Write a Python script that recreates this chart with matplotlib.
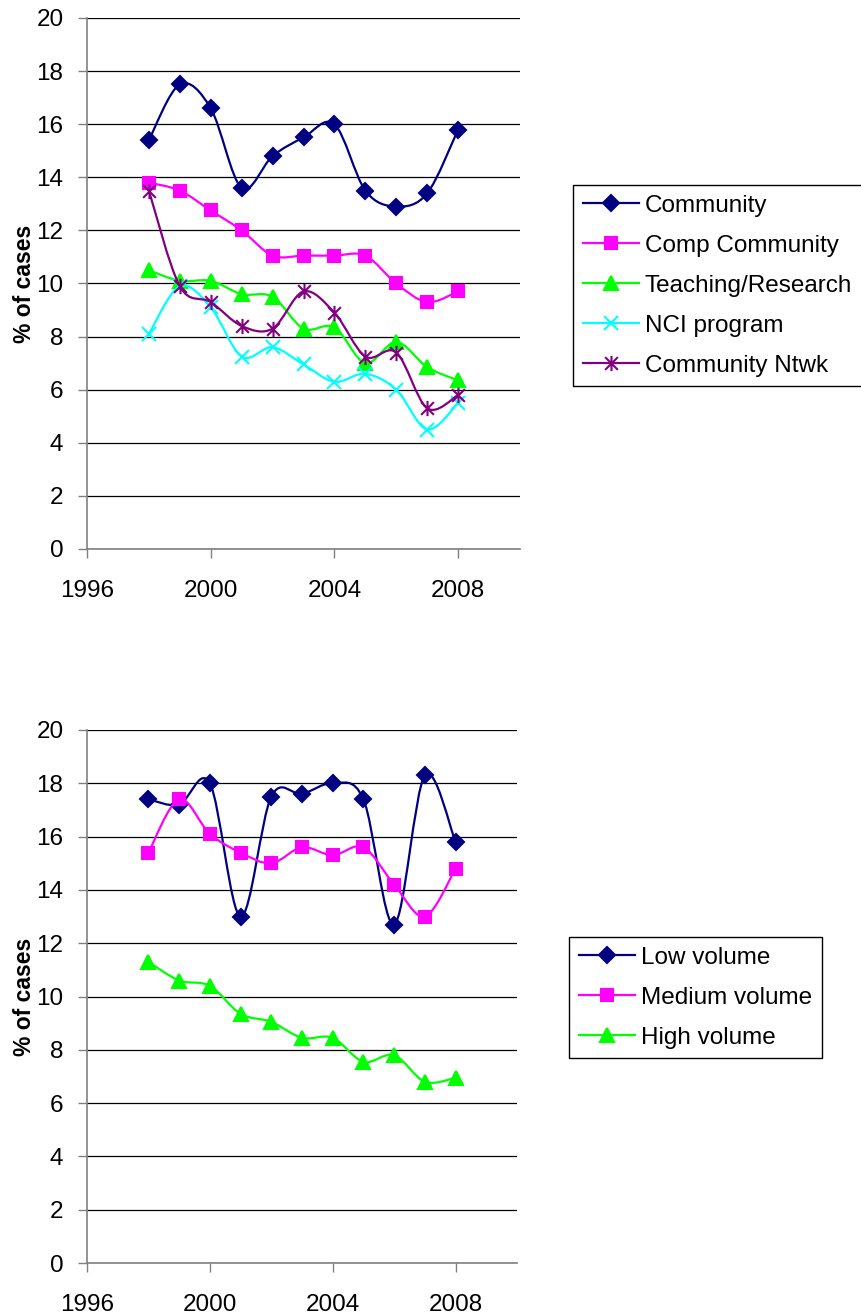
import numpy as np
import matplotlib
matplotlib.use("Agg")
import matplotlib.pyplot as plt
from matplotlib.path import Path
from matplotlib.patches import PathPatch
from matplotlib.lines import Line2D

plt.rcParams['font.family'] = ['Liberation Sans', 'DejaVu Sans']

years = [1998, 1999, 2000, 2001, 2002, 2003, 2004, 2005, 2006, 2007, 2008]

# Hospital type
community = [15.4, 17.5, 16.6, 13.6, 14.8, 15.5, 16.0, 13.5, 12.9, 13.4, 15.8]
comp_community = [13.8, 13.5, 12.75, 12.0, 11.05, 11.05, 11.05, 11.05, 10.0, 9.3, 9.7]
teaching = [10.5, 10.1, 10.1, 9.6, 9.5, 8.3, 8.35, 7.0, 7.8, 6.85, 6.35]
nci_program = [8.1, 9.9, 9.1, 7.25, 7.6, 6.95, 6.3, 6.6, 6.0, 4.5, 5.5]
community_ntwk = [13.5, 9.9, 9.3, 8.4, 8.3, 9.7, 8.9, 7.25, 7.4, 5.3, 5.8]

# Hospital volume
low_volume = [17.4, 17.2, 18.0, 13.0, 17.5, 17.6, 18.0, 17.4, 12.7, 18.3, 15.8]
medium_volume = [15.4, 17.4, 16.1, 15.4, 15.0, 15.6, 15.3, 15.6, 14.2, 13.0, 14.8]
high_volume = [11.3, 10.6, 10.4, 9.35, 9.05, 8.45, 8.45, 7.55, 7.8, 6.8, 6.95]

x_ticks = [1996, 2000, 2004, 2008]
y_ticks = list(range(0, 21, 2))

# asterisk marker: an X with a vertical bar
star = Path([(-1, -1), (1, 1), (-1, 1), (1, -1), (0, -1.2), (0, 1.2)],
            [Path.MOVETO, Path.LINETO, Path.MOVETO, Path.LINETO, Path.MOVETO, Path.LINETO])

top_series = [
    ("Community", community, "#000080", "D", 8.5),
    ("Comp Community", comp_community, "#FF00FF", "s", 8.5),
    ("Teaching/Research", teaching, "#00FF00", "^", 10.5),
    ("NCI program", nci_program, "#00FFFF", "x", 10.5),
    ("Community Ntwk", community_ntwk, "#800080", star, 11),
]
bottom_series = [
    ("Low volume", low_volume, "#000080", "D", 8.5),
    ("Medium volume", medium_volume, "#FF00FF", "s", 8.5),
    ("High volume", high_volume, "#00FF00", "^", 10.5),
]


def smooth_path(xs, ys):
    """Cubic Bezier path through the points (Catmull-Rom style tangents)."""
    pts = np.column_stack([xs, ys]).astype(float)
    n = len(pts)
    verts = [pts[0]]
    codes = [Path.MOVETO]
    for i in range(n - 1):
        p0 = pts[i - 1] if i > 0 else pts[i]
        p1 = pts[i]
        p2 = pts[i + 1]
        p3 = pts[i + 2] if i + 2 < n else pts[i + 1]
        c1 = p1 + (p2 - p0) / 6.0
        c2 = p2 - (p3 - p1) / 6.0
        verts += [c1, c2, p2]
        codes += [Path.CURVE4] * 3
    return Path(verts, codes)


def draw_panel(ax, series):
    handles = []
    for k, (name, vals, color, marker, ms) in enumerate(series):
        patch = PathPatch(smooth_path(years, vals), fill=False, edgecolor=color,
                          lw=1.6, zorder=3 + k)
        ax.add_patch(patch)
        filled = marker not in ("x",) and not isinstance(marker, Path)
        ax.plot(years, vals, ls="none", marker=marker, ms=ms, color=color,
                mec=color, mfc=color if filled else "none", mew=1.5, zorder=3 + k + 0.5)
        handles.append(Line2D([], [], color=color, lw=1.6, marker=marker, ms=ms,
                              mec=color, mfc=color if filled else "none", mew=1.5))
    ax.set_xlim(1996, 2010)
    ax.set_ylim(0, 20)
    ax.set_xticks(x_ticks)
    ax.set_yticks(y_ticks)
    ax.tick_params(axis="both", labelsize=17.5, direction="out", length=6.5,
                   width=1, color="#808080", pad=10.5)
    ax.tick_params(axis="x", pad=16)
    ax.grid(axis="y", color="black", lw=0.9)
    ax.set_axisbelow(True)
    for s in ("top", "right"):
        ax.spines[s].set_visible(False)
    for s in ("left", "bottom"):
        ax.spines[s].set_color("#808080")
        ax.spines[s].set_linewidth(1.2)
    ax.set_ylabel("% of cases", fontsize=16.5, fontweight="bold", labelpad=0.5)
    return handles


W, H = 861, 1316
fig = plt.figure(figsize=(W / 100, H / 100), dpi=100)

ax1 = fig.add_axes([87 / W, 1 - 549 / H, (520 - 87) / W, (549 - 18) / H])
ax2 = fig.add_axes([87 / W, 1 - 1263 / H, (517 - 87) / W, (1263 - 730) / H])

h1 = draw_panel(ax1, top_series)
h2 = draw_panel(ax2, bottom_series)

legend_kw = dict(fontsize=17.5, frameon=True, fancybox=False, edgecolor="black",
                 handlelength=2.3, handletextpad=0.25, labelspacing=0.74,
                 borderpad=0.4, borderaxespad=0, framealpha=1)
leg1 = fig.legend(h1, [s[0] for s in top_series], loc="upper left",
                  bbox_to_anchor=(573 / W, 1 - 185 / H), **legend_kw)
leg2 = fig.legend(h2, [s[0] for s in bottom_series], loc="upper left",
                  bbox_to_anchor=(569 / W, 1 - 937 / H), **legend_kw)
for leg in (leg1, leg2):
    leg.get_frame().set_linewidth(1.0)

fig.savefig("out.png", dpi=100)
